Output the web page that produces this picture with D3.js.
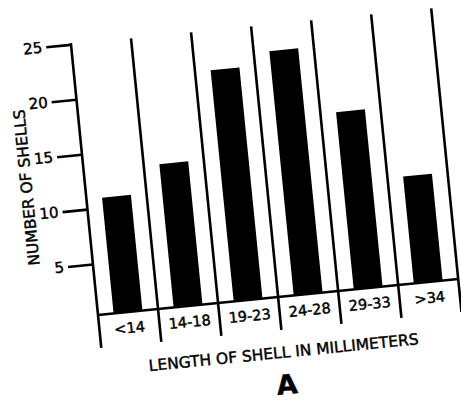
<!DOCTYPE html>
<html>
<head>
<meta charset="utf-8">
<script src="https://cdn.jsdelivr.net/npm/d3@7"></script>
<style>
  html, body { margin: 0; padding: 0; background: #fff; }
  svg { display: block; }
  text { font-family: "DejaVu Sans", sans-serif; fill: #000; stroke: #000; stroke-width: 0.45px; }
</style>
</head>
<body>
<script>
const categories = ["<14", "14-18", "19-23", "24-28", "29-33", ">34"];
const counts = [10.9, 13.4, 21.4, 22.6, 16.5, 10.1];
const yTicks = [5, 10, 15, 20, 25];
const xTitle = "Length of shell in millimeters";
const yTitle = "Number of shells";
const panelLabel = "A";

const W = 461, H = 407;
const svg = d3.select("body").append("svg")
  .attr("width", W).attr("height", H)
  .style("background", "#fff");

// chart is drawn in a slightly rotated frame (origin = axis/baseline corner)
const g = svg.append("g").attr("transform", "translate(98,315) rotate(-5.7)");

const x = d3.scaleBand().domain(categories).range([0, 362])
  .paddingInner(0.52).paddingOuter(0.26);
const step = x.step();
const y = d3.scaleLinear().domain([0, 25]).range([4, -272]);

const sw = 2.6;

// bars
g.selectAll("rect.bar").data(categories).join("rect")
  .attr("class", "bar")
  .attr("x", d => x(d))
  .attr("width", x.bandwidth())
  .attr("y", (d, i) => y(counts[i]))
  .attr("height", (d, i) => 0 - y(counts[i]))
  .attr("fill", "#000");

// y axis with ticks
const yAxis = d3.axisLeft(y).tickValues(yTicks).tickSize(25).tickPadding(4);
const ya = g.append("g").call(yAxis);
ya.select(".domain").remove();
ya.selectAll(".tick line").attr("stroke", "#000").attr("stroke-width", sw);
ya.selectAll(".tick text")
  .attr("font-family", "DejaVu Sans, sans-serif")
  .attr("font-size", 15)
  .attr("fill", "#000");

// y axis line
g.append("line")
  .attr("x1", 0).attr("x2", 0)
  .attr("y1", 33).attr("y2", y(25) - sw / 2)
  .attr("stroke", "#000").attr("stroke-width", sw);

// baseline
g.append("line")
  .attr("x1", 0).attr("x2", step * categories.length)
  .attr("y1", 0).attr("y2", 0)
  .attr("stroke", "#000").attr("stroke-width", sw);

// dividers between categories (extend below to form label boxes)
g.selectAll("line.div").data(categories).join("line")
  .attr("class", "div")
  .attr("x1", (d, i) => (i + 1) * step)
  .attr("x2", (d, i) => (i + 1) * step)
  .attr("y1", 33).attr("y2", y(25))
  .attr("stroke", "#000").attr("stroke-width", sw);

// category labels
g.selectAll("text.cat").data(categories).join("text")
  .attr("class", "cat")
  .attr("x", d => x(d) + x.bandwidth() / 2)
  .attr("y", 16)
  .attr("text-anchor", "middle")
  .attr("dominant-baseline", "central")
  .attr("font-size", 14.5)
  .text(d => d);

// x title
g.append("text")
  .attr("x", step * categories.length / 2)
  .attr("y", 56)
  .attr("text-anchor", "middle")
  .attr("dominant-baseline", "central")
  .attr("font-size", 15.5)
  .style("text-transform", "uppercase")
  .text(xTitle);

// y title
g.append("text")
  .attr("transform", "translate(-58,-134) rotate(-90)")
  .attr("text-anchor", "middle")
  .attr("dominant-baseline", "central")
  .attr("font-size", 15.5)
  .style("text-transform", "uppercase")
  .text(yTitle);

// panel label
g.append("text")
  .attr("x", step * categories.length / 2)
  .attr("y", 88)
  .attr("text-anchor", "middle")
  .attr("dominant-baseline", "central")
  .attr("font-size", 27)
  .attr("font-weight", "bold")
  .text(panelLabel);
</script>
</body>
</html>
